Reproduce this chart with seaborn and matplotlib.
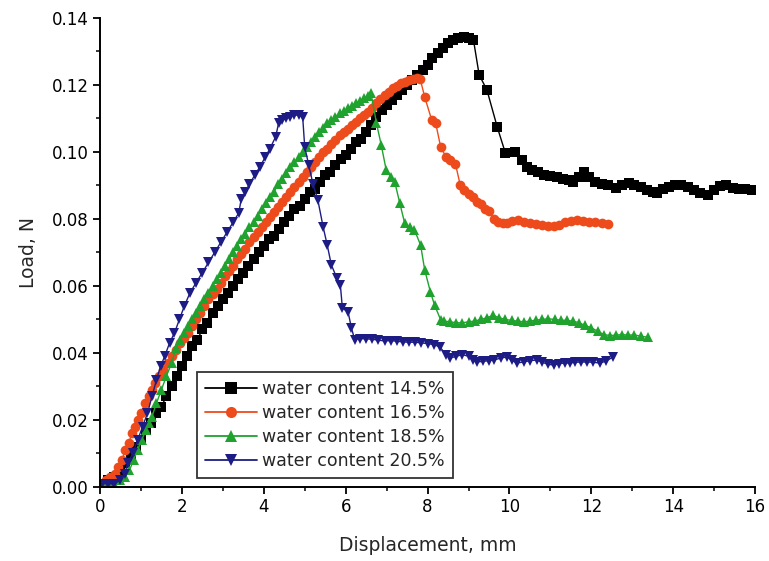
import matplotlib
matplotlib.use("Agg")
import matplotlib.pyplot as plt
from matplotlib.lines import Line2D
from matplotlib.ticker import MultipleLocator
import seaborn as sns
import pandas as pd

series_labels = ["water content 14.5%", "water content 16.5%",
                 "water content 18.5%", "water content 20.5%"]

x_145 = [0.05, 0.2, 0.35, 0.5, 0.62, 0.75, 0.88, 1.0, 1.12, 1.25, 1.38, 1.5, 1.62, 1.75, 1.88,
         2.0, 2.12, 2.25, 2.38, 2.5, 2.62, 2.75, 2.88, 3.0, 3.12, 3.25, 3.38, 3.5, 3.62, 3.75,
         3.88, 4.0, 4.12, 4.25, 4.38, 4.5, 4.62, 4.75, 4.88, 5.0, 5.12, 5.25, 5.38, 5.5, 5.62,
         5.75, 5.88, 6.0, 6.12, 6.25, 6.38, 6.5, 6.62, 6.75, 6.88, 7.0, 7.12, 7.25, 7.38, 7.5,
         7.62, 7.75, 7.88, 8.0, 8.12, 8.25, 8.38, 8.5, 8.62, 8.75, 8.88, 9.0, 9.12,
         9.26, 9.45, 9.7, 9.9, 10.13, 10.3, 10.42, 10.55, 10.7, 10.85, 11.0, 11.15, 11.3, 11.45,
         11.56, 11.7, 11.83, 11.95, 12.1, 12.25, 12.4, 12.6, 12.75, 12.93, 13.05, 13.2, 13.35,
         13.5, 13.6, 13.75, 13.9, 14.05, 14.2, 14.35, 14.5, 14.65, 14.85, 15.0, 15.15, 15.3,
         15.45, 15.6, 15.75, 15.93]
y_145 = [0.001, 0.002, 0.003, 0.005, 0.007, 0.009, 0.012, 0.014, 0.017, 0.019, 0.022, 0.024,
         0.027, 0.030, 0.033, 0.036, 0.039, 0.042, 0.044, 0.047, 0.049, 0.052, 0.054, 0.056,
         0.058, 0.060, 0.062, 0.064, 0.066, 0.068, 0.070, 0.072, 0.074, 0.075, 0.077, 0.079,
         0.081, 0.083, 0.084, 0.086, 0.088, 0.089, 0.091, 0.093, 0.094, 0.096, 0.098, 0.099,
         0.101, 0.103, 0.104, 0.106, 0.108, 0.1105, 0.1125, 0.114, 0.1155, 0.117, 0.1185,
         0.120, 0.1215, 0.123, 0.1245, 0.126, 0.128, 0.1295, 0.131, 0.1325, 0.1335, 0.134,
         0.1343, 0.134, 0.1335,
         0.123, 0.1185, 0.1075, 0.0997, 0.100, 0.0975, 0.0955, 0.0945, 0.094, 0.0932, 0.0928,
         0.0925, 0.092, 0.0915, 0.091, 0.0925, 0.094, 0.0925, 0.091, 0.0905, 0.090, 0.0893,
         0.090, 0.0907, 0.090, 0.0895, 0.0885, 0.088, 0.0878, 0.089, 0.0895, 0.090, 0.0901,
         0.0895, 0.0885, 0.0878, 0.0872, 0.0885, 0.0897, 0.090, 0.0893, 0.089, 0.0888, 0.0887]

x_165 = [0.05, 0.15, 0.25, 0.36, 0.45, 0.53, 0.62, 0.7, 0.78, 0.85, 0.92, 1.0, 1.1, 1.2, 1.27,
         1.35, 1.45, 1.55, 1.65, 1.75, 1.85, 1.95, 2.05, 2.15, 2.25, 2.35, 2.45, 2.55, 2.65,
         2.75, 2.85, 2.95, 3.05, 3.15, 3.25, 3.35, 3.45, 3.55, 3.65, 3.75, 3.85, 3.95, 4.05,
         4.15, 4.25, 4.35, 4.45, 4.55, 4.65, 4.75, 4.85, 4.95, 5.05, 5.15, 5.25, 5.35, 5.45,
         5.55, 5.65, 5.75, 5.85, 5.95, 6.05, 6.15, 6.25, 6.35, 6.45, 6.55, 6.65, 6.75, 6.85,
         6.95, 7.05, 7.15, 7.25, 7.35, 7.45, 7.55, 7.65, 7.75, 7.82,
         7.93, 8.1, 8.2, 8.32, 8.45, 8.55, 8.68, 8.8, 8.9, 9.0, 9.1, 9.2, 9.3, 9.4, 9.5, 9.62,
         9.72, 9.84, 9.94, 10.06, 10.2, 10.35, 10.5, 10.65, 10.8, 10.95, 11.08, 11.2, 11.35,
         11.5, 11.64, 11.8, 11.95, 12.1, 12.25, 12.4]
y_165 = [0.001, 0.002, 0.003, 0.004, 0.006, 0.008, 0.011, 0.013, 0.016, 0.018, 0.020, 0.022,
         0.025, 0.027, 0.029, 0.031, 0.033, 0.035, 0.037, 0.039, 0.041, 0.043, 0.0445, 0.046,
         0.048, 0.050, 0.052, 0.054, 0.056, 0.0575, 0.059, 0.061, 0.063, 0.0645, 0.066, 0.068,
         0.0695, 0.071, 0.073, 0.0745, 0.076, 0.0775, 0.079, 0.0805, 0.082, 0.0835, 0.085,
         0.0865, 0.088, 0.0895, 0.091, 0.0925, 0.094, 0.0955, 0.097, 0.0985, 0.100, 0.101,
         0.1025, 0.1035, 0.105, 0.106, 0.107, 0.108, 0.109, 0.110, 0.111, 0.112, 0.1132,
         0.1145, 0.1158, 0.117, 0.118, 0.119, 0.1198, 0.1205, 0.121, 0.1215, 0.1218, 0.122,
         0.1218,
         0.1164, 0.1096, 0.1085, 0.1015, 0.0985, 0.0975, 0.0965, 0.0900, 0.0885, 0.0875,
         0.0865, 0.085, 0.0845, 0.083, 0.0825, 0.0800, 0.0790, 0.0787, 0.0788, 0.0793, 0.0797,
         0.079, 0.0788, 0.0785, 0.0783, 0.078, 0.0779, 0.0783, 0.079, 0.0795, 0.0797, 0.0795,
         0.0792, 0.079, 0.0789, 0.0785]

x_185 = [0.05, 0.2, 0.35, 0.5, 0.62, 0.72, 0.82, 0.92, 1.02, 1.12, 1.2, 1.27, 1.38, 1.5, 1.62,
         1.75, 1.86, 1.95, 2.05, 2.15, 2.25, 2.35, 2.45, 2.55, 2.65, 2.75, 2.85, 2.95, 3.05,
         3.15, 3.25, 3.35, 3.45, 3.55, 3.65, 3.75, 3.85, 3.95, 4.05, 4.15, 4.25, 4.35, 4.45,
         4.55, 4.65, 4.75, 4.85, 4.95, 5.05, 5.15, 5.25, 5.35, 5.45, 5.55, 5.65, 5.75, 5.85,
         5.95, 6.05, 6.15, 6.25, 6.35, 6.45, 6.55, 6.62,
         6.75, 6.87, 6.99, 7.1, 7.2, 7.32, 7.44, 7.56, 7.68, 7.83, 7.93, 8.07, 8.17, 8.32,
         8.4, 8.55, 8.7, 8.85, 9.0, 9.15, 9.3, 9.45, 9.6, 9.75, 9.9, 10.05, 10.2, 10.35, 10.5,
         10.65, 10.8, 10.95, 11.1, 11.25, 11.4, 11.55, 11.7, 11.85, 12.0, 12.15, 12.3, 12.45,
         12.6, 12.75, 12.9, 13.05, 13.2, 13.38]
y_185 = [0.001, 0.001, 0.001, 0.002, 0.003, 0.005, 0.008, 0.011, 0.014, 0.017, 0.019, 0.021,
         0.025, 0.029, 0.033, 0.037, 0.0415, 0.044, 0.046, 0.048, 0.050, 0.052, 0.054, 0.056,
         0.058, 0.060, 0.062, 0.064, 0.066, 0.068, 0.070, 0.072, 0.074, 0.0755, 0.0775, 0.079,
         0.081, 0.083, 0.0848, 0.0865, 0.088, 0.0905, 0.092, 0.0938, 0.0955, 0.097, 0.0985,
         0.100, 0.1015, 0.103, 0.1045, 0.106, 0.1072, 0.1085, 0.1095, 0.1105, 0.1115, 0.1122,
         0.113, 0.1138, 0.1145, 0.1152, 0.116, 0.1168, 0.1175,
         0.1087, 0.1020, 0.0946, 0.0925, 0.0910, 0.0848, 0.0788, 0.0775, 0.0767, 0.0722,
         0.0648, 0.0582, 0.0543, 0.0499,
         0.0495, 0.0493, 0.049, 0.049, 0.0493, 0.0495, 0.050, 0.0505, 0.0512, 0.0505, 0.050,
         0.0497, 0.0495, 0.0493, 0.0495, 0.0498, 0.050, 0.0502, 0.050, 0.0498, 0.0497, 0.0495,
         0.049, 0.0482, 0.0475, 0.0465, 0.0455, 0.0452, 0.0453, 0.0455, 0.0453, 0.0454, 0.045,
         0.0447]

x_205 = [0.05, 0.2, 0.35, 0.5, 0.6, 0.68, 0.8, 0.92, 1.04, 1.16, 1.27, 1.38, 1.48, 1.58, 1.7,
         1.82, 1.94, 2.06, 2.2, 2.35, 2.5, 2.65, 2.8, 2.95, 3.1, 3.25, 3.39, 3.45, 3.55, 3.65,
         3.78, 3.9, 4.04, 4.15, 4.29, 4.36, 4.45, 4.55, 4.65, 4.75, 4.85, 4.95,
         5.0, 5.1, 5.2, 5.32, 5.45, 5.55, 5.65, 5.78, 5.87, 5.92, 6.06, 6.14, 6.22,
         6.35, 6.5, 6.65, 6.8, 6.95, 7.1, 7.25, 7.4, 7.55, 7.7, 7.85, 8.0, 8.15, 8.3, 8.45,
         8.56, 8.7, 8.85, 9.0, 9.1, 9.21, 9.35, 9.5, 9.62, 9.8, 9.94, 10.06, 10.18, 10.35, 10.5,
         10.67, 10.8, 10.95, 11.08, 11.2, 11.35, 11.47, 11.6, 11.75, 11.9, 12.05, 12.2, 12.35,
         12.53]
y_205 = [0.001, 0.001, 0.001, 0.002, 0.004, 0.007, 0.010, 0.014, 0.018, 0.022, 0.027, 0.032,
         0.036, 0.039, 0.043, 0.046, 0.050, 0.054, 0.058, 0.061, 0.064, 0.067, 0.070, 0.073,
         0.076, 0.079, 0.0818, 0.086, 0.088, 0.0905, 0.093, 0.0955, 0.0985, 0.101, 0.1045,
         0.1085, 0.1095, 0.110, 0.1105, 0.111, 0.111, 0.1105,
         0.1015, 0.096, 0.0905, 0.0857, 0.0776, 0.0722, 0.0663, 0.0625, 0.0603, 0.0534,
         0.0522, 0.0475, 0.0440,
         0.0443, 0.0442, 0.0441, 0.0438, 0.0436, 0.0437, 0.0435, 0.0433, 0.0432, 0.0432,
         0.043, 0.0428, 0.0425, 0.0418, 0.0395, 0.0385, 0.039, 0.0395, 0.039, 0.0378, 0.0373,
         0.0375, 0.0377, 0.0379, 0.0385, 0.0388, 0.0378, 0.037, 0.0373, 0.0377, 0.0379,
         0.0372, 0.0366, 0.0364, 0.0368, 0.037, 0.037, 0.0372, 0.0373, 0.0373, 0.0372, 0.037,
         0.0375, 0.0388]

colors = ["#000000", "#EE4B1C", "#1FA22E", "#1C1C84"]
markers = ["s", "o", "^", "v"]

frames = []
for lab, xs, ys in zip(series_labels, [x_145, x_165, x_185, x_205],
                       [y_145, y_165, y_185, y_205]):
    frames.append(pd.DataFrame({"Displacement": xs, "Load": ys, "series": lab}))
df = pd.concat(frames, ignore_index=True)

sns.set_style("ticks")
plt.rcParams["font.family"] = ["DejaVu Sans"]

fig = plt.figure(figsize=(7.69, 5.61), dpi=100)
ax = fig.add_axes([0.130, 0.132, 0.852, 0.836])

sns.lineplot(data=df, x="Displacement", y="Load", hue="series", style="series",
             hue_order=series_labels, style_order=series_labels,
             palette=colors, markers=markers, dashes=False, sort=False, estimator=None,
             markersize=7, markeredgewidth=0, linewidth=1.0, legend=False, ax=ax)

ax.set_xlim(0, 16)
ax.set_ylim(0, 0.14)
ax.xaxis.set_major_locator(MultipleLocator(2))
ax.xaxis.set_minor_locator(MultipleLocator(1))
ax.yaxis.set_major_locator(MultipleLocator(0.02))
ax.yaxis.set_minor_locator(MultipleLocator(0.01))
ax.set_yticks([0, 0.02, 0.04, 0.06, 0.08, 0.10, 0.12, 0.14])
ax.set_yticklabels(["0.00", "0.02", "0.04", "0.06", "0.08", "0.10", "0.12", "0.14"])
ax.tick_params(which="major", direction="out", length=5, width=1.3, labelsize=12,
               colors="black", pad=3)
ax.tick_params(which="minor", direction="out", length=3, width=1.3)
for s in ["top", "right"]:
    ax.spines[s].set_visible(False)
for s in ["left", "bottom"]:
    ax.spines[s].set_linewidth(1.4)
    ax.spines[s].set_color("black")

ax.set_xlabel("Displacement, mm", fontsize=13.5, labelpad=14)
ax.set_ylabel("Load, N", fontsize=13.5, labelpad=10)

handles = [Line2D([0], [0], color=c, marker=m, markersize=8, markeredgewidth=0, linewidth=1.3)
           for c, m in zip(colors, markers)]
leg = ax.legend(handles, series_labels, loc="lower left", bbox_to_anchor=(0.148, 0.019),
                fontsize=12.5, frameon=True, fancybox=False, edgecolor="black",
                handlelength=3.0, handletextpad=0.3, labelspacing=0.35, borderpad=0.45,
                borderaxespad=0)
leg.get_frame().set_linewidth(1.3)

fig.savefig("out.png", dpi=100)
